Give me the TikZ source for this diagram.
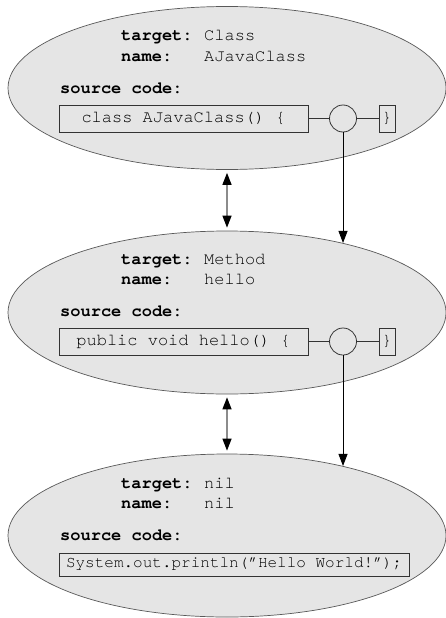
\documentclass[tikz,border=0pt]{standalone}
\usepackage{fontspec}
\setmonofont{TeX Gyre Cursor}
\usetikzlibrary{shapes.geometric,arrows.meta}

\begin{document}
\begin{tikzpicture}[x=1pt,y=-1pt,
  blob/.style={ellipse, draw=black!65, fill=black!10, line width=0.7pt, minimum width=438pt, minimum height=163pt, inner sep=0pt},
  key/.style={anchor=base west, inner sep=0pt, font=\ttfamily\bfseries\fontsize{17}{20}\selectfont},
  val/.style={anchor=base west, inner sep=0pt, text=black, font=\ttfamily\fontsize{17}{20}\selectfont},
  codebox/.style={draw=black!80, line width=0.8pt, inner sep=0pt, minimum width=249pt, minimum height=27pt, text=black, font=\ttfamily\fontsize{17}{20}\selectfont},
  endbox/.style={codebox, minimum width=16pt},
  knot/.style={circle, draw=black!80, line width=0.8pt, minimum size=27pt, inner sep=0pt},
  link/.style={draw=black!80, line width=0.8pt},
  down/.style={-{Triangle[length=12pt,width=9pt]}, line width=0.8pt},
  both/.style={{Triangle[length=12pt,width=9pt,color=black]}-{Triangle[length=12pt,width=9pt,color=black]}, draw=black!45, line width=1.3pt, shorten <=3pt, shorten >=3pt}
]
  \useasboundingbox (0,0) rectangle (446,618);

  % Draw the three contexts
  \node[blob] (cls) at (227,88) {};      % class context
  \node[blob] (meth) at (227,312.5) {};  % method context
  \node[blob] (stmt) at (227,535.5) {};  % statement context

  % Class context
  \node[key] (cls-tk) at (121,41) {target:};
  \node[val] (cls-tv) at (204,41) {Class};
  \node[key] (cls-nk) at (121,61) {name:};
  \node[val] (cls-nv) at (204,61) {AJavaClass};
  \node[key] (cls-src) at (60,93) {source code:};
  \node[codebox] (cls-code) at (183.5,118.5) {class AJavaClass() \{};
  \node[knot] (cls-knot) at (343,118.5) {};
  \node[endbox] (cls-end) at (387,118.5) {\}};
  \draw[link] (cls-code) -- (cls-knot) -- (cls-end);

  % Method context
  \node[key] (meth-tk) at (121,264) {target:};
  \node[val] (meth-tv) at (204,264) {Method};
  \node[key] (meth-nk) at (121,284) {name:};
  \node[val] (meth-nv) at (204,284) {hello};
  \node[key] (meth-src) at (60,316) {source code:};
  \node[codebox] (meth-code) at (183.5,341.5) {public void hello() \{};
  \node[knot] (meth-knot) at (343,341.5) {};
  \node[endbox] (meth-end) at (387,341.5) {\}};
  \draw[link] (meth-code) -- (meth-knot) -- (meth-end);

  % Statement context
  \node[key] (stmt-tk) at (121,488) {target:};
  \node[val] (stmt-tv) at (204,488) {nil};
  \node[key] (stmt-nk) at (121,508) {name:};
  \node[val] (stmt-nv) at (204,508) {nil};
  \node[key] (stmt-src) at (60,540) {source code:};
  \node[codebox, minimum width=350pt, minimum height=23pt, font=\ttfamily\fontsize{16}{19}\selectfont] (stmt-code) at (234,564.5) {System.out.println(”Hello World!”);};

  % Add the arrows
  \draw[both] (cls.south) -- (meth.north);
  \draw[both] (meth.south) -- (stmt.north);
  \draw[down] (cls-knot.south) -- (cls-knot.south |- meth.31);
  \draw[down] (meth-knot.south) -- (meth-knot.south |- stmt.31);
\end{tikzpicture}
\end{document}
